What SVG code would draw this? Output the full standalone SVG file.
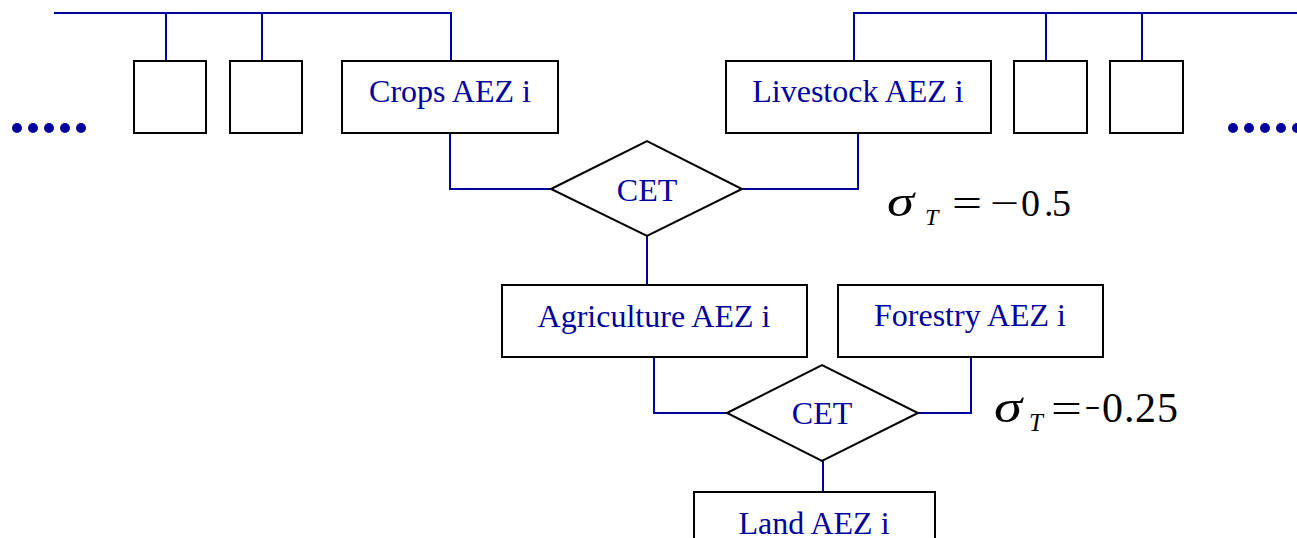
<svg xmlns="http://www.w3.org/2000/svg" width="1297" height="538" viewBox="0 0 1297 538">
<style>
.box{fill:#fff;stroke:#000;stroke-width:2}
.conn{fill:none;stroke:#00009C;stroke-width:2}
.lbl{font-family:"Liberation Serif","Times New Roman",serif;font-size:32px;fill:#00009C;text-anchor:middle}
.eq{font-family:"Liberation Serif","Times New Roman",serif;fill:#000}
.it{font-style:italic}
.dot{fill:#00009C}
</style>
<rect width="1297" height="538" fill="#fff"/>
<g id="connectors">
<polyline class="conn" points="54,13 451,13 451,61"/>
<line class="conn" x1="166" y1="13" x2="166" y2="61"/>
<line class="conn" x1="262" y1="13" x2="262" y2="61"/>
<polyline class="conn" points="1297,13 854,13 854,61"/>
<line class="conn" x1="1046" y1="13" x2="1046" y2="61"/>
<line class="conn" x1="1142" y1="13" x2="1142" y2="61"/>
<polyline class="conn" points="450,133 450,189 551,189"/>
<polyline class="conn" points="858,133 858,189 742,189"/>
<line class="conn" x1="647" y1="236" x2="647" y2="285"/>
<polyline class="conn" points="654,357 654,413 727,413"/>
<polyline class="conn" points="971,357 971,413 918,413"/>
<line class="conn" x1="823" y1="461" x2="823" y2="492"/>
</g>
<g id="dots-left">
<circle class="dot" cx="17" cy="128" r="5"/><circle class="dot" cx="33" cy="128" r="5"/><circle class="dot" cx="49" cy="128" r="5"/><circle class="dot" cx="65" cy="128" r="5"/><circle class="dot" cx="81" cy="128" r="5"/>
</g>
<g id="dots-right">
<circle class="dot" cx="1233" cy="128" r="5"/><circle class="dot" cx="1249" cy="128" r="5"/><circle class="dot" cx="1265" cy="128" r="5"/><circle class="dot" cx="1281" cy="128" r="5"/><circle class="dot" cx="1297" cy="128" r="5"/>
</g>
<g id="box-l1"><rect class="box" x="134" y="61" width="72" height="72"/></g>
<g id="box-l2"><rect class="box" x="230" y="61" width="72" height="72"/></g>
<g id="crops"><rect class="box" x="342" y="61" width="216" height="72"/><text class="lbl" x="450" y="102">Crops AEZ i</text></g>
<g id="livestock"><rect class="box" x="726" y="61" width="265" height="72"/><text class="lbl" x="858" y="102">Livestock AEZ i</text></g>
<g id="box-r1"><rect class="box" x="1014" y="61" width="73" height="72"/></g>
<g id="box-r2"><rect class="box" x="1110" y="61" width="73" height="72"/></g>
<g id="cet1"><polygon class="box" points="551,189 647,141 742,189 647,236"/><text class="lbl" x="647" y="201">CET</text></g>
<g id="agriculture"><rect class="box" x="502" y="285" width="305" height="72"/><text class="lbl" x="654" y="327">Agriculture AEZ i</text></g>
<g id="forestry"><rect class="box" x="838" y="285" width="265" height="72"/><text class="lbl" x="970" y="326">Forestry AEZ i</text></g>
<g id="cet2"><polygon class="box" points="727,413 822,365 918,413 822,461"/><text class="lbl" x="822" y="424">CET</text></g>
<g id="land"><rect class="box" x="694" y="492" width="241" height="60"/><text class="lbl" x="814" y="534">Land AEZ i</text></g>
<g id="sigma1" class="eq">
<text class="it" x="887" y="216" font-size="44" textLength="27" lengthAdjust="spacingAndGlyphs">σ</text>
<text class="it" x="925" y="225" font-size="24">T</text>
<text x="952" y="216" font-size="38" textLength="30" lengthAdjust="spacingAndGlyphs">=</text>
<text x="990" y="216" font-size="38" textLength="29" lengthAdjust="spacingAndGlyphs">−</text>
<text x="1021" y="216" font-size="38">0</text>
<text x="1044" y="216" font-size="38">.</text>
<text x="1052" y="216" font-size="38">5</text>
</g>
<g id="sigma2" class="eq">
<text class="it" x="994" y="422" font-size="46" textLength="28" lengthAdjust="spacingAndGlyphs">σ</text>
<text class="it" x="1029" y="431" font-size="25">T</text>
<text x="1051" y="422" font-size="42" textLength="31" lengthAdjust="spacingAndGlyphs">=</text>
<text x="1085" y="422" font-size="42" textLength="15" lengthAdjust="spacingAndGlyphs">−</text>
<text x="1102" y="422" font-size="42">0</text>
<text x="1124" y="422" font-size="42">.</text>
<text x="1135" y="422" font-size="42">2</text>
<text x="1157" y="422" font-size="42">5</text>
</g>
</svg>
